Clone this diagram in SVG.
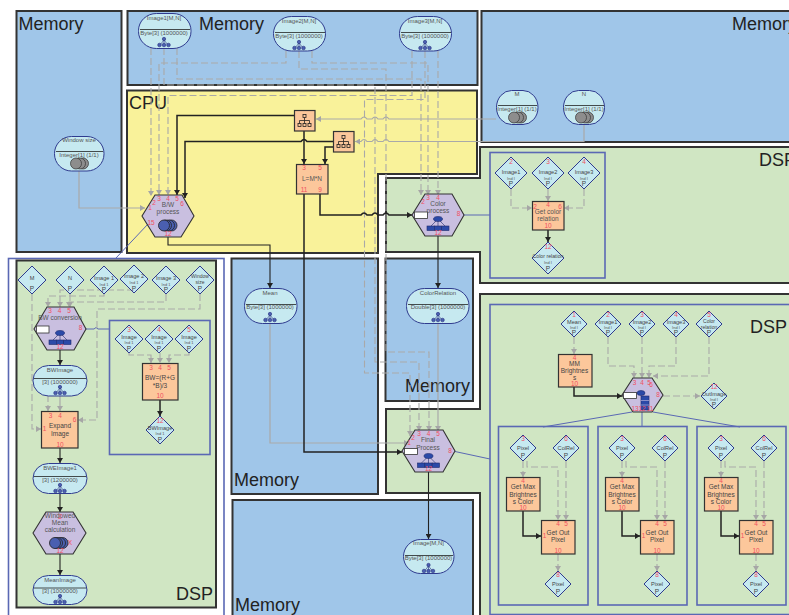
<svg xmlns="http://www.w3.org/2000/svg" xmlns:xlink="http://www.w3.org/1999/xlink" width="789" height="615" viewBox="0 0 789 615">
<style>
text{font-family:"Liberation Sans",Arial,sans-serif;text-anchor:middle}
.p{stroke:#333;stroke-width:2}
.mem{fill:#a0c6e9}.cpu{fill:#f9f29a}.dsp{fill:#d0e6c3}
.box{fill:#d0e6c3;stroke:#5a68b4;stroke-width:1.6}
.title{font-size:18px;fill:#222;text-anchor:start}
.t{font-size:6px;fill:#555}
.b{font-size:6.5px;fill:#555}
.d{font-size:5.6px;fill:#444}
.s{font-size:4px;fill:#555}
.r{font-size:6.5px;fill:#f0505f}
.pp{font-size:6.5px;fill:#444}
.data,.dia{fill:#c6e9f0;stroke:#2f3b8f;stroke-width:1}
.hex{fill:#c9bfe0;stroke:#333;stroke-width:1.1}
.proc{fill:#fcc79b;stroke:#333;stroke-width:1.2}
.div{stroke:#222;stroke-width:.8}
.tag{fill:#fff;stroke:#333;stroke-width:.8}
.c{fill:none}
.g{stroke:#a9a9a9;stroke-width:1.2;marker-end:url(#ag)}
.gd{stroke:#a9a9a9;stroke-width:1.1;stroke-dasharray:7 3;marker-end:url(#ag)}
.k{stroke:#222;stroke-width:1.1;marker-end:url(#ak)}
.K{stroke:#222;stroke-width:1.5;marker-end:url(#ak)}
.bl{stroke:#5a68b4;stroke-width:1}
</style>
<defs>
<marker id="ag" markerUnits="userSpaceOnUse" markerWidth="6" markerHeight="6" refX="5" refY="3" orient="auto"><path d="M0 0L5 3L0 6Z" fill="#a6a6a6"/></marker>
<marker id="ak" markerUnits="userSpaceOnUse" markerWidth="6" markerHeight="6" refX="5" refY="3" orient="auto"><path d="M0 0L5 3L0 6Z" fill="#222"/></marker>
<g id="tree" fill="#4a5fb0" stroke="#28307f" stroke-width=".6"><path d="M0-2L-4 3M0-2V3M0-2L4 3" fill="none"/><circle cx="0" cy="-3" r="1.7"/><circle cx="-4.500" cy="3" r="1.8"/><circle cx="0" cy="3" r="1.8"/><circle cx="4.500" cy="3" r="1.8"/></g>
<g id="gstack" fill="#8d8d8d" stroke="#333" stroke-width=".7"><circle cx="4" r="5.500"/><circle cx="1" r="5.500"/><circle cx="-3" r="5.500"/></g>
<g id="bstack" fill="#4a5fb0" stroke="#222" stroke-width=".8"><circle cx="4.500" r="5.500"/><circle cx="2" r="5.500"/><circle cx="-1" r="5.500"/><circle cx="-3" r="5.500"/></g>
<g id="hier" fill="#2b4aa8" stroke="#1f2a6b" stroke-width=".6"><path d="M0-6L-7 1M0-6V1M0-6L7 1" fill="none"/><ellipse cy="-6" rx="4.500" ry="2.500"/><rect x="-11" y="1" width="7.300" height="4.500"/><rect x="-3.700" y="1" width="7.300" height="4.500"/><rect x="3.700" y="1" width="7.300" height="4.500"/></g>
<g id="org" fill="none" stroke="#222" stroke-width=".8"><path d="M0-3V0M-5 0H5M-5 0V3M0 0V3M5 0V3"/><rect x="-1.500" y="-6" width="3" height="3"/><rect x="-6.500" y="3" width="3" height="3"/><rect x="-1.500" y="3" width="3" height="3"/><rect x="3.500" y="3" width="3" height="3"/></g>
<polygon id="d13" class="dia" points="0,-13 13,0 0,13 -13,0"/>
<polygon id="d14" class="dia" points="0,-14 14,0 0,14 -14,0"/>
<polygon id="d16" class="dia" points="0,-16 16,0 0,16 -16,0"/>
</defs>

<g id="panels">
<rect id="mem-left" class="p mem" x="16.500" y="11" width="105" height="241"/>
<rect id="mem-top" class="p mem" x="127.500" y="11" width="350" height="74"/>
<polygon id="cpu" class="p cpu" points="127,90.500 477,90.500 477,174 378,174 378,253 127,253"/>
<rect id="mem-right" class="p mem" x="481.500" y="11" width="310" height="131"/>
<polygon id="dsp-top" class="p dsp" points="480,147 792,147 792,283 480,283 480,252 386,252 386,178 480,178"/>
<rect id="mem-mean" class="p mem" x="231.500" y="258.500" width="146.500" height="235.500"/>
<rect id="mem-color" class="p mem" x="385.500" y="258.500" width="87.500" height="142.500"/>
<polygon id="dsp-final" class="p dsp" points="386,409 480,409 480,294 792,294 792,618 480,618 480,493 386,493"/>
<rect id="mem-bottom" class="p mem" x="232.500" y="500" width="240.500" height="118"/>
<rect id="dsp-left-frame" x="8.500" y="258.500" width="215.500" height="360" fill="#fff" stroke="#5a68b4" stroke-width="1.6"/>
<rect id="dsp-left" class="p dsp" x="16.500" y="260.500" width="199.500" height="347"/>
<rect class="box" x="109.500" y="320.500" width="100.500" height="134"/>
<rect class="box" x="490" y="152.500" width="115" height="125.500"/>
<rect class="box" x="490" y="304.500" width="302" height="310"/>
<rect class="box" x="498.500" y="426.500" width="89.500" height="178.500"/>
<rect class="box" x="598" y="426.500" width="89" height="178.500"/>
<rect class="box" x="697" y="426.500" width="89" height="178.500"/>
<text class="title" x="18.500" y="29.500">Memory</text>
<text class="title" x="199" y="29.500">Memory</text>
<text class="title" x="732" y="29.500">Memory</text>
<text class="title" x="129" y="108.500">CPU</text>
<text class="title" x="759" y="165.500">DSP</text>
<text class="title" x="176" y="600">DSP</text>
<text class="title" x="750" y="333">DSP</text>
<text class="title" x="234" y="486">Memory</text>
<text class="title" x="405" y="392">Memory</text>
<text class="title" x="235" y="611">Memory</text>
</g>

<g id="connectors" class="c">
<path class="bl" d="M148 224L116 258"/>
<path class="bl" d="M464 215H490"/>
<path class="bl" d="M455 451.500L490 459"/>
<path class="bl" d="M86 329H94q2-3 4 0H109"/>
<path class="bl" d="M632 412L543 427M642 412V426M653 412L740 427"/>

<path class="g" d="M79 171V208H145"/>
<path class="gd" d="M151 48V196"/>
<path class="gd" d="M286 51V63H159V195"/>
<path class="gd" d="M412 51V95.500H168V195"/>
<path class="gd" d="M177 48V79H421V195"/>
<path class="gd" d="M312 51V63H428V195"/>
<path class="gd" d="M438 51V195"/>
<path class="gd" d="M164 48V85H375V362H419V431"/>
<path class="gd" d="M299 51V69H386V352H429V431"/>
<path class="gd" d="M425 51V99.500H364.500V373H410V436"/>
<path class="g" d="M496 119H389q-3-4-6 0H378q-3-4-6 0H367q-3-4-6 0H316"/>
<path class="g" d="M584 124V141.500H389q-3-4-6 0H378q-3-4-6 0H367q-3-4-6 0H355"/>
<path class="g" d="M270 323V443H409"/>
<path class="g" d="M438 323V431"/>

<path class="K" d="M294 115.500H177V195"/>
<path class="K" d="M333 141.500H307q-3-4-6 0H185V198"/>
<path class="K" d="M304 131V164"/>
<path class="K" d="M333 147H325V164"/>
<path class="k" d="M168 237V245H270V288"/>
<path class="K" d="M320 194V215H361q3-4 6 0H372q3-4 6 0H383q3-4 6 0H412"/>
<path class="K" d="M304 194V452H402"/>
<path class="k" d="M438 236V288"/>
<path class="k" d="M428.500 472V539"/>

<path class="gd" d="M511 189V208H532"/>
<path class="gd" d="M548 189V201"/>
<path class="gd" d="M584 189V208H564"/>
<path class="K" d="M548 230V242"/>

<path class="gd" d="M32 294V429H41"/>
<path class="gd" d="M134 290H60V307"/>
<path class="gd" d="M104 294V296H48V307"/>
<path class="gd" d="M70 294V307"/>
<path class="gd" d="M166 294V302H69V307"/>
<path class="gd" d="M200 294V309H97V420H78"/>
<path class="gd" d="M48 395V411"/>
<path class="g" d="M60 396V411"/>
<path class="k" d="M60 350V365"/>
<path class="k" d="M60 448V463"/>
<path class="k" d="M60 493V512"/>
<path class="k" d="M60 554V575"/>
<path class="gd" d="M129 353V355H151V363"/>
<path class="gd" d="M160 353V363"/>
<path class="gd" d="M189 353V355H169V363"/>
<path class="K" d="M160 400V416"/>

<path class="gd" d="M574 337V354"/>
<path class="gd" d="M608 337V366H634V378"/>
<path class="gd" d="M642 337V378"/>
<path class="gd" d="M676 337V366H649V378"/>
<path class="gd" d="M709 337V376H653"/>
<path class="K" d="M574 387V396H622"/>
<path class="gd" d="M663 396H700"/>

<path class="gd" d="M523 461V477"/>
<path class="gd" d="M527 461V467H558V520"/>
<path class="gd" d="M566 461V520"/>
<path class="K" d="M523 511V536H541"/>
<path class="gd" d="M558 554V571"/>
<path class="gd" d="M622 461V477"/>
<path class="gd" d="M626 461V467H657V520"/>
<path class="gd" d="M665 461V520"/>
<path class="K" d="M622 511V536H640"/>
<path class="gd" d="M657 554V571"/>
<path class="gd" d="M721 461V477"/>
<path class="gd" d="M725 461V467H756V520"/>
<path class="gd" d="M764 461V520"/>
<path class="K" d="M721 511V536H739"/>
<path class="gd" d="M756 554V571"/>
</g>

<g id="n-image1"><rect class="data" x="138.500" y="13.500" width="52.500" height="35" rx="18" ry="17"/><line class="div" x1="140" y1="29.500" x2="190" y2="29.500"/><text class="t" x="164" y="20">Image1[M,N]</text><text class="t" x="164" y="34.500">Byte[3] (1000000)</text><use href="#tree" x="164" y="42"/></g>
<g id="n-image2"><rect class="data" x="273.500" y="16.500" width="52" height="34.500" rx="18" ry="17"/><line class="div" x1="275" y1="32.500" x2="325" y2="32.500"/><text class="t" x="299" y="23">Image2[M,N]</text><text class="t" x="299" y="37.500">Byte[3] (1000000)</text><use href="#tree" x="299" y="45"/></g>
<g id="n-image3"><rect class="data" x="399.500" y="16.500" width="52" height="34.500" rx="18" ry="17"/><line class="div" x1="401" y1="32.500" x2="451" y2="32.500"/><text class="t" x="425" y="23">Image3[M,N]</text><text class="t" x="425" y="37.500">Byte[3] (1000000)</text><use href="#tree" x="425" y="45"/></g>
<g id="n-window"><rect class="data" x="54.500" y="136.500" width="49.500" height="34.500" rx="17" ry="17"/><line class="div" x1="56" y1="151.500" x2="103" y2="151.500"/><text class="t" x="79" y="142">Window size</text><text class="t" x="79" y="157">Integer[1] (1/1)</text><use href="#gstack" x="79" y="163.500"/></g>
<g id="n-m"><rect class="data" x="496.500" y="90.500" width="41.500" height="34" rx="15" ry="17"/><line class="div" x1="498" y1="105.500" x2="537" y2="105.500"/><text class="t" x="517" y="96">M</text><text class="t" x="517" y="111">Integer[1] (1/1)</text><use href="#gstack" x="517" y="117.500"/></g>
<g id="n-n"><rect class="data" x="563.500" y="90.500" width="41" height="34" rx="15" ry="17"/><line class="div" x1="565" y1="105.500" x2="604" y2="105.500"/><text class="t" x="584" y="96">N</text><text class="t" x="584" y="111">Integer[1] (1/1)</text><use href="#gstack" x="584" y="117.500"/></g>
<g id="n-mean"><rect class="data" x="244.500" y="288.500" width="52.500" height="35" rx="18" ry="17"/><line class="div" x1="246" y1="304.500" x2="296" y2="304.500"/><text class="t" x="270" y="294.500">Mean</text><text class="t" x="270" y="309">Byte[3] (1000000)</text><use href="#tree" x="270" y="317"/></g>
<g id="n-colorrel"><rect class="data" x="406.500" y="288.500" width="62.500" height="35" rx="18" ry="17"/><line class="div" x1="408" y1="304.500" x2="468" y2="304.500"/><text class="t" x="438" y="294.500">ColorRelation</text><text class="t" x="438" y="309">Double[3] (1000000)</text><use href="#tree" x="438" y="317"/></g>
<g id="n-image"><rect class="data" x="403.500" y="539.500" width="50.500" height="34" rx="17" ry="17"/><line class="div" x1="405" y1="555.500" x2="453" y2="555.500"/><text class="t" x="428.500" y="545">Image[M,N]</text><text class="t" x="428.500" y="560">Byte[3] (1000000)</text><use href="#tree" x="428.500" y="568"/></g>
<g id="n-bwimage"><rect class="data" x="33" y="365.500" width="54" height="30.500" rx="15.500" ry="15"/><line class="div" x1="34" y1="378.500" x2="86" y2="378.500"/><text class="t" x="60" y="371.500">BWImage</text><text class="t" x="60" y="383.500">[3] (1000000)</text><use href="#tree" x="60" y="390"/></g>
<g id="n-bweimage"><rect class="data" x="33" y="463.500" width="54" height="30" rx="15.500" ry="15"/><line class="div" x1="34" y1="476.500" x2="86" y2="476.500"/><text class="t" x="60" y="469.500">BWEImage1</text><text class="t" x="60" y="481.500">[3] (1200000)</text><use href="#tree" x="60" y="488"/></g>
<g id="n-meanimage"><rect class="data" x="33" y="575.500" width="54" height="29" rx="15.500" ry="14.500"/><line class="div" x1="34" y1="588" x2="86" y2="588"/><text class="t" x="60" y="581.500">MeanImage</text><text class="t" x="60" y="593">[3] (1000000)</text><use href="#tree" x="60" y="599"/></g>

<g id="n-bwprocess"><polygon class="hex" points="142,216 155,195 182,195 194,216 181,237 155,237"/><text class="b" x="168" y="207">B/W</text><text class="b" x="168" y="214">process</text><use href="#bstack" x="167" y="225.500"/>
<text class="r" x="150" y="210">1</text><text class="r" x="154" y="205">2</text><text class="r" x="159" y="200.500">3</text><text class="r" x="168" y="200.500">4</text><text class="r" x="177" y="200.500">5</text><text class="r" x="182" y="205.500">6</text><text class="r" x="151" y="225">15</text><text class="r" x="168" y="236">12</text></g>
<g id="n-colorprocess"><polygon class="hex" points="412,215 425,194 452,194 464,215 452,236 425,236"/><text class="b" x="438" y="205.500">Color</text><text class="b" x="438" y="212.500">process</text><rect class="tag" x="414.500" y="212" width="13" height="6.500"/><use href="#hier" x="438" y="225"/>
<text class="r" x="423" y="204">2</text><text class="r" x="428" y="199.500">3</text><text class="r" x="438" y="199.500">4</text><text class="r" x="458.500" y="216">8</text><text class="r" x="438" y="234.500">12</text></g>
<g id="n-finalprocess"><polygon class="hex" points="402,451 415,430 443,430 455,451 443,472 415,472"/><text class="b" x="428" y="441.500">Final</text><text class="b" x="428" y="449.500">Process</text><rect class="tag" x="404.500" y="448.500" width="13" height="6"/><use href="#hier" x="428.500" y="462"/>
<text class="r" x="409" y="445">1</text><text class="r" x="413" y="440">2</text><text class="r" x="419" y="436">3</text><text class="r" x="428.500" y="436">4</text><text class="r" x="438" y="436">5</text><text class="r" x="450" y="453">8</text><text class="r" x="428.500" y="470.500">12</text></g>
<g id="n-bwconv"><polygon class="hex" points="34,329 47,307 74,307 86,329 74,350 47,350"/><text class="b" x="60" y="320">BW conversion</text><rect class="tag" x="36.500" y="326" width="12.500" height="7"/><use href="#hier" x="60" y="339"/>
<text class="r" x="50" y="313">3</text><text class="r" x="59.500" y="313">4</text><text class="r" x="69" y="313">5</text><text class="r" x="80.500" y="330">8</text><text class="r" x="60" y="348.500">12</text></g>
<g id="n-windowed"><polygon class="hex" points="33,533 46,512 73,512 86,533 73,554 46,554"/><text class="b" x="60" y="518">Windowed</text><text class="b" x="60" y="525">Mean</text><text class="b" x="60" y="532">calculation</text><use href="#bstack" x="58" y="543"/><text class="r" x="60" y="519">2</text><text class="r" x="70" y="545">X</text><text class="r" x="60" y="552.500">12</text></g>
<g id="n-rightprocess"><polygon class="hex" points="622,395 633,378 652,378 663,395 652,412 633,412"/><rect class="tag" x="623.500" y="392.500" width="13" height="6"/><ellipse cx="641" cy="393" rx="4" ry="2.500" fill="#2b4aa8" stroke="#1f2a6b" stroke-width=".6"/><rect x="641" y="396" width="8" height="14" fill="#2b4aa8" stroke="#1f2a6b" stroke-width=".6"/><path d="M641 400.500h8M641 405h8" stroke="#c9bfe0" stroke-width=".6"/>
<text class="r" x="634.500" y="384.500">3</text><text class="r" x="642" y="384.500">4</text><text class="r" x="649" y="384.500">5</text><text class="r" x="651" y="387">6</text><text class="r" x="658" y="397">8</text><text class="r" x="635" y="411">13</text><text class="r" x="642" y="411">12</text><text class="r" x="650" y="411">11</text></g>

<g id="n-decomp1"><rect class="proc" x="294.500" y="110.500" width="20.500" height="20.500"/><use href="#org" x="304.500" y="120.500"/></g>
<g id="n-decomp2"><rect class="proc" x="333.500" y="131.500" width="20.500" height="20.500"/><use href="#org" x="343.500" y="141.500"/></g>
<g id="n-lmn"><rect class="proc" x="296.500" y="164.500" width="31.500" height="29.500"/><text class="b" x="312" y="181">L=M*N</text><text class="r" x="304" y="170">3</text><text class="r" x="320" y="170">5</text><text class="r" x="304" y="192">11</text><text class="r" x="320" y="192">9</text></g>
<g id="n-getcolor"><rect class="proc" x="532.500" y="201.500" width="31.500" height="28.500"/><text class="b" x="548" y="213.500">Get color</text><text class="b" x="548" y="221">relation</text><text class="r" x="535" y="209">2</text><text class="r" x="548" y="206.500">4</text><text class="r" x="560" y="209">6</text><text class="r" x="548" y="228">10</text></g>
<g id="n-bwcalc"><rect class="proc" x="142.500" y="363.500" width="35.500" height="36.500"/><text class="d" x="160" y="380" style="font-size:6.500px">BW=(R+G</text><text class="d" x="160" y="388" style="font-size:6.500px">*B)/3</text><text class="r" x="151" y="369.500">3</text><text class="r" x="160" y="369.500">4</text><text class="r" x="169" y="369.500">5</text><text class="r" x="160" y="398">10</text></g>
<g id="n-expand"><rect class="proc" x="41.500" y="411.500" width="36.500" height="36.500"/><text class="d" x="60" y="428" style="font-size:6.500px">Expand</text><text class="d" x="60" y="435.500" style="font-size:6.500px">Image</text><text class="r" x="50.500" y="417.500">3</text><text class="r" x="60" y="417.500">4</text><text class="r" x="74.500" y="421.500">6</text><text class="r" x="44.500" y="430.500">1</text><text class="r" x="60" y="446.500">10</text></g>
<g id="n-mmbright"><rect class="proc" x="558.500" y="354.500" width="33.500" height="32.500"/><text class="d" x="574.500" y="365.500" style="font-size:6.500px">MM</text><text class="d" x="574.500" y="372.500" style="font-size:6.500px">Brightnes</text><text class="d" x="574.500" y="380" style="font-size:6.500px">s</text><text class="r" x="574.500" y="359.500">4</text><text class="r" x="574.500" y="385.500">10</text></g>

<g id="n-getmax1"><rect class="proc" x="506.500" y="477.500" width="33.500" height="33.500"/><text class="d" x="523" y="489" style="font-size:6.500px">Get Max</text><text class="d" x="523" y="496.500" style="font-size:6.500px">Brightnes</text><text class="d" x="523" y="503.500" style="font-size:6.500px">s Color</text><text class="r" x="523" y="482.500">4</text><text class="r" x="523" y="509.500">10</text></g>
<g id="n-getout1"><rect class="proc" x="541.500" y="520.500" width="33.500" height="33.500"/><text class="d" x="558" y="534.500" style="font-size:6.500px">Get Out</text><text class="d" x="558" y="541.500" style="font-size:6.500px">Pixel</text><text class="r" x="558" y="525.500">4</text><text class="r" x="566" y="525.500">5</text><text class="r" x="544.500" y="538">1</text><text class="r" x="558" y="552.500">10</text></g>
<g id="n-getmax2"><rect class="proc" x="605.500" y="477.500" width="33.500" height="33.500"/><text class="d" x="622" y="489" style="font-size:6.500px">Get Max</text><text class="d" x="622" y="496.500" style="font-size:6.500px">Brightnes</text><text class="d" x="622" y="503.500" style="font-size:6.500px">s Color</text><text class="r" x="622" y="482.500">4</text><text class="r" x="622" y="509.500">10</text></g>
<g id="n-getout2"><rect class="proc" x="640.500" y="520.500" width="33.500" height="33.500"/><text class="d" x="657" y="534.500" style="font-size:6.500px">Get Out</text><text class="d" x="657" y="541.500" style="font-size:6.500px">Pixel</text><text class="r" x="657" y="525.500">4</text><text class="r" x="665" y="525.500">5</text><text class="r" x="643.500" y="538">1</text><text class="r" x="657" y="552.500">10</text></g>
<g id="n-getmax3"><rect class="proc" x="704.500" y="477.500" width="33.500" height="33.500"/><text class="d" x="721" y="489" style="font-size:6.500px">Get Max</text><text class="d" x="721" y="496.500" style="font-size:6.500px">Brightnes</text><text class="d" x="721" y="503.500" style="font-size:6.500px">s Color</text><text class="r" x="721" y="482.500">4</text><text class="r" x="721" y="509.500">10</text></g>
<g id="n-getout3"><rect class="proc" x="739.500" y="520.500" width="33.500" height="33.500"/><text class="d" x="756" y="534.500" style="font-size:6.500px">Get Out</text><text class="d" x="756" y="541.500" style="font-size:6.500px">Pixel</text><text class="r" x="756" y="525.500">4</text><text class="r" x="764" y="525.500">5</text><text class="r" x="742.500" y="538">1</text><text class="r" x="756" y="552.500">10</text></g>

<g id="d-top-image1" transform="translate(511,173)"><use href="#d16"/><text class="d" y="1">Image1</text><text class="s" y="6.500">Ind I</text><text class="pp" y="13">P</text><text class="r" y="-9">2</text></g>
<g id="d-top-image2" transform="translate(548,173)"><use href="#d16"/><text class="d" y="1">Image2</text><text class="s" y="6.500">Ind I</text><text class="pp" y="13">P</text><text class="r" y="-9">3</text></g>
<g id="d-top-image3" transform="translate(584,173)"><use href="#d16"/><text class="d" y="1">Image3</text><text class="s" y="6.500">Ind I</text><text class="pp" y="13">P</text><text class="r" y="-9">4</text></g>
<g id="d-top-colorrel" transform="translate(548,258)"><use href="#d16"/><text class="d" y="0" style="font-size:5.200px">Color relation</text><text class="s" y="6">Ind I</text><text class="pp" y="13">P</text><text class="r" y="-9">12</text></g>

<g id="d-l-m" transform="translate(32,280)"><use href="#d14"/><text class="d" y="0">M</text><text class="pp" y="11">P</text></g>
<g id="d-l-n" transform="translate(70,280)"><use href="#d14"/><text class="d" y="0">N</text><text class="pp" y="11">P</text></g>
<g id="d-l-image1" transform="translate(104,280)"><use href="#d14"/><text class="d" y="0">Image 1</text><text class="s" y="5.500">Ind 1</text><text class="pp" y="11.500">P</text></g>
<g id="d-l-image2" transform="translate(134,279)"><use href="#d14"/><text class="d" y="-1">Image 2</text><text class="s" y="4.500">Ind 1</text><text class="pp" y="11.500">P</text></g>
<g id="d-l-image3" transform="translate(166,280)"><use href="#d14"/><text class="d" y="0">Image 3</text><text class="s" y="5.500">Ind 1</text><text class="pp" y="11.500">P</text></g>
<g id="d-l-window" transform="translate(200,280)"><use href="#d14"/><text class="d" y="-2" style="font-size:5px">Window</text><text class="d" y="4" style="font-size:5px">size</text><text class="pp" y="11">P</text></g>
<g id="d-in-image3" transform="translate(129,339)"><use href="#d14"/><text class="d" y="0">Image</text><text class="s" y="5">Ind 1</text><text class="pp" y="11.500">P</text><text class="r" y="-7">3</text></g>
<g id="d-in-image4" transform="translate(159,339)"><use href="#d14"/><text class="d" y="0">Image</text><text class="s" y="5">Ind 1</text><text class="pp" y="11.500">P</text><text class="r" y="-7">4</text></g>
<g id="d-in-image5" transform="translate(189,339)"><use href="#d14"/><text class="d" y="0">Image</text><text class="s" y="5">Ind 1</text><text class="pp" y="11.500">P</text><text class="r" y="-7">5</text></g>
<g id="d-in-bwimage" transform="translate(160,430)"><use href="#d14"/><text class="d" y="0">BWImage</text><text class="s" y="5">Ind 1</text><text class="pp" y="11.500">P</text><text class="r" y="-7">12</text></g>

<g id="d-f-mean" transform="translate(574,324)"><use href="#d13"/><text class="d" y="0">Mean</text><text class="s" y="5">Ind I</text><text class="pp" y="11">P</text><text class="r" y="-7">1</text></g>
<g id="d-f-image1" transform="translate(608,324)"><use href="#d13"/><text class="d" y="0">Image1</text><text class="s" y="5">Ind I</text><text class="pp" y="11">P</text><text class="r" y="-7">2</text></g>
<g id="d-f-image2" transform="translate(642,324)"><use href="#d13"/><text class="d" y="0">Image2</text><text class="s" y="5">Ind I</text><text class="pp" y="11">P</text><text class="r" y="-7">3</text></g>
<g id="d-f-image3" transform="translate(676,324)"><use href="#d13"/><text class="d" y="0">Image3</text><text class="s" y="5">Ind I</text><text class="pp" y="11">P</text><text class="r" y="-7">4</text></g>
<g id="d-f-colorrel" transform="translate(709,324)"><use href="#d13"/><text class="d" y="-1" style="font-size:5px">Color</text><text class="d" y="4.500" style="font-size:5px">relation</text><text class="pp" y="11">P</text><text class="r" y="-7">5</text></g>
<g id="d-f-outimage" transform="translate(714,396)"><use href="#d13"/><text class="d" y="0">OutImage</text><text class="s" y="5">Ind I</text><text class="pp" y="11">P</text><text class="r" y="-7">12</text></g>

<g id="d-s1-pixel" transform="translate(523,448)"><use href="#d13"/><text class="d" y="1.500">Pixel</text><text class="pp" y="10">P</text><text class="r" y="-7">3</text></g>
<g id="d-s1-colrel" transform="translate(566,448)"><use href="#d13"/><text class="d" y="1.500">ColRel</text><text class="pp" y="10">P</text><text class="r" y="-7">6</text></g>
<g id="d-s1-out" transform="translate(558,584)"><use href="#d13"/><text class="d" y="1.500">Pixel</text><text class="pp" y="10">P</text><text class="r" y="-7">8</text></g>
<g id="d-s2-pixel" transform="translate(622,448)"><use href="#d13"/><text class="d" y="1.500">Pixel</text><text class="pp" y="10">P</text><text class="r" y="-7">3</text></g>
<g id="d-s2-colrel" transform="translate(665,448)"><use href="#d13"/><text class="d" y="1.500">ColRel</text><text class="pp" y="10">P</text><text class="r" y="-7">6</text></g>
<g id="d-s2-out" transform="translate(657,584)"><use href="#d13"/><text class="d" y="1.500">Pixel</text><text class="pp" y="10">P</text><text class="r" y="-7">8</text></g>
<g id="d-s3-pixel" transform="translate(721,448)"><use href="#d13"/><text class="d" y="1.500">Pixel</text><text class="pp" y="10">P</text><text class="r" y="-7">3</text></g>
<g id="d-s3-colrel" transform="translate(764,448)"><use href="#d13"/><text class="d" y="1.500">ColRel</text><text class="pp" y="10">P</text><text class="r" y="-7">6</text></g>
<g id="d-s3-out" transform="translate(756,584)"><use href="#d13"/><text class="d" y="1.500">Pixel</text><text class="pp" y="10">P</text><text class="r" y="-7">8</text></g>
</svg>
